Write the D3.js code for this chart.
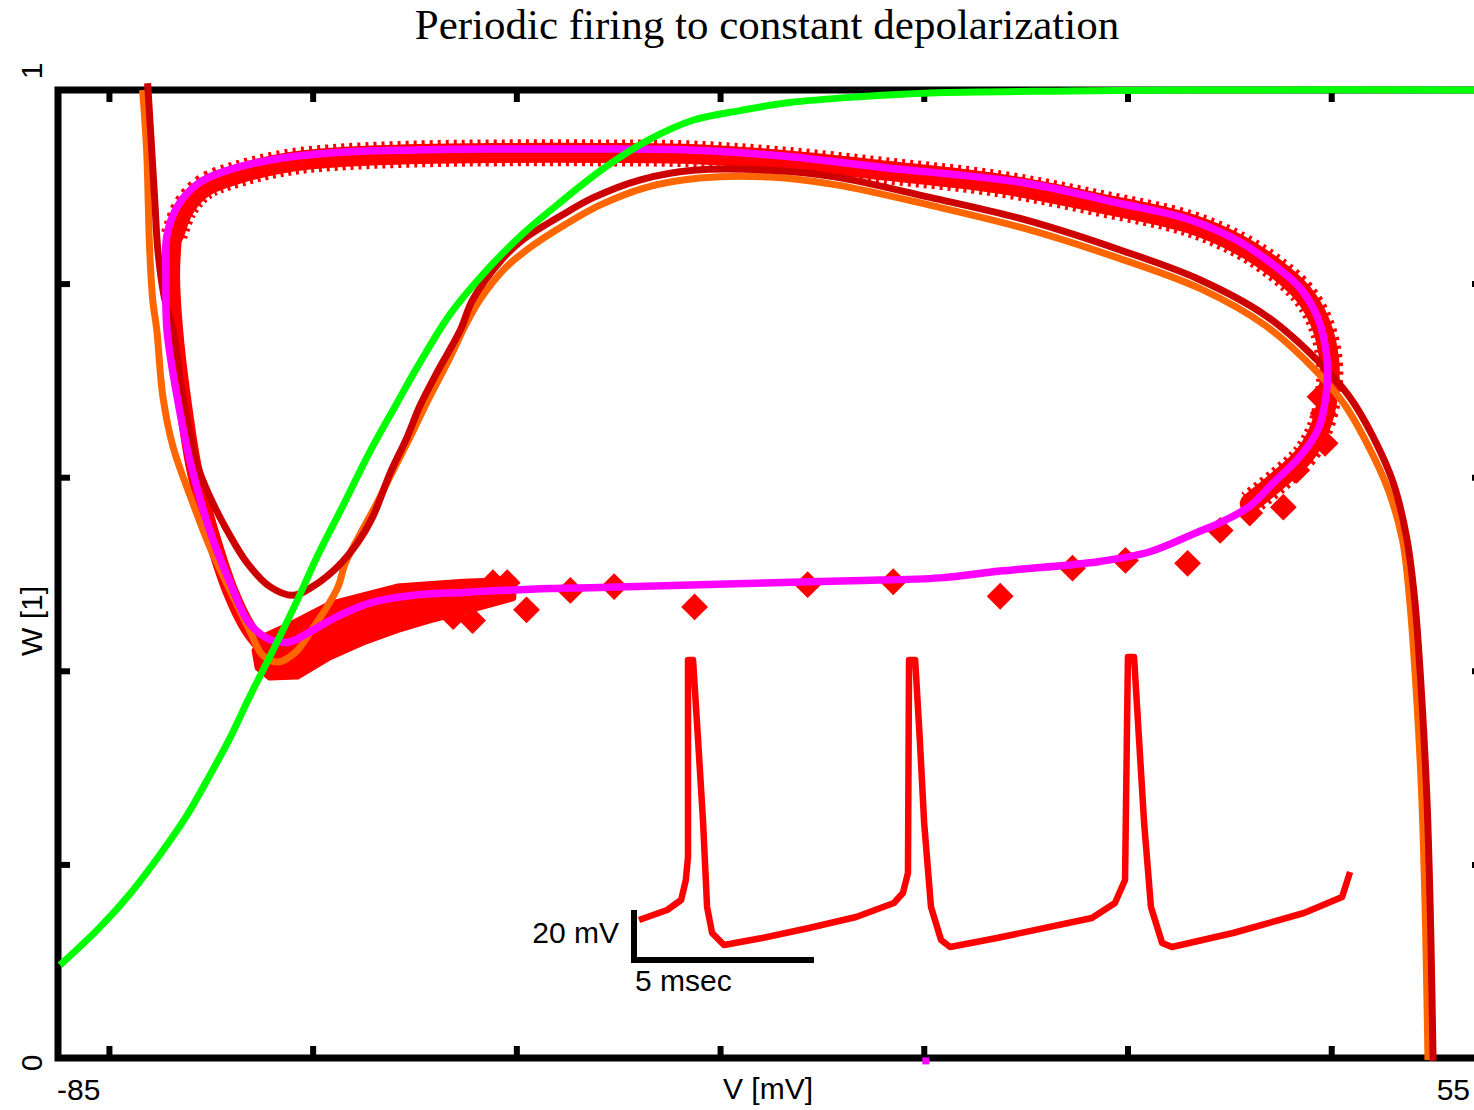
<!DOCTYPE html>
<html>
<head>
<meta charset="utf-8">
<script src="https://cdn.jsdelivr.net/npm/d3@7"></script>
<style>
  body { margin: 0; background: #fff; }
  svg { display: block; }
</style>
</head>
<body>
<div id="chart"></div>
<script>
// steady state activation W(V) - green
const greenV = [-84.8, -80.9, -77.9, -75.0, -72.5, -70.1, -68.1, -66.2, -63.9, -61.5, -59.6, -57.0, -54.4, -51.7, -49.6,
  -46.4, -42.9, -39.3, -35.8, -31.3, -27.1, -22.6, -17.9, -13.2, -6.4, 0.6, 14.5, 27.1, 55];
const greenW = [0.096, 0.135, 0.170, 0.210, 0.248, 0.292, 0.331, 0.373, 0.421, 0.473, 0.517, 0.571, 0.626, 0.677, 0.716,
  0.770, 0.814, 0.852, 0.883, 0.920, 0.948, 0.969, 0.979, 0.987, 0.993, 0.997, 0.999, 1.0, 1.0];

// trajectory - dark red
const darkV = [-76.2, -75.8, -75.5, -75.2, -74.6, -73.6, -73.0, -72.3, -71.4, -70.1, -68.4, -66.4, -64.2, -61.9, -60.0,
  -57.6, -55.6, -54.1, -52.4, -50.7, -49.5, -47.8, -45.5, -44.3, -41.5, -39.4, -35.8, -32.4, -27.9, -22.6, -15.1, -8.6,
  0.6, 9.9, 19.2, 27.1, 33.7, 38.9, 41.8, 44.1, 46.1, 47.4, 48.2, 48.9, 49.4, 49.7, 49.9, 50.0];
const darkW = [1.007, 0.938, 0.886, 0.835, 0.788, 0.747, 0.700, 0.659, 0.615, 0.580, 0.545, 0.511, 0.487, 0.478, 0.487,
  0.507, 0.532, 0.559, 0.604, 0.642, 0.673, 0.708, 0.752, 0.783, 0.824, 0.845, 0.869, 0.889, 0.907, 0.917, 0.917, 0.910,
  0.889, 0.866, 0.835, 0.804, 0.766, 0.718, 0.683, 0.642, 0.594, 0.538, 0.473, 0.370, 0.267, 0.163, 0.060, -0.003];

// trajectory - orange
const orangeV = [-76.7, -76.3, -76.0, -75.7, -75.3, -74.7, -73.7, -72.0, -70.1, -68.1, -66.2, -64.9, -63.4, -61.7, -60.1,
  -58.6, -57.5, -56.8, -55.4, -53.7, -52.1, -50.4, -48.8, -46.5, -45.0, -43.6, -41.1, -38.7, -35.2, -31.8, -27.4, -22.0,
  -15.1, -8.6, 0.6, 9.9, 19.2, 27.1, 33.5, 38.4, 41.3, 43.6, 45.6, 47.0, 47.7, 48.4, 48.9, 49.2, 49.4, 49.5];
const orangeW = [1.0, 0.938, 0.835, 0.783, 0.752, 0.683, 0.631, 0.580, 0.528, 0.483, 0.442, 0.416, 0.409, 0.419, 0.442,
  0.466, 0.487, 0.511, 0.540, 0.573, 0.607, 0.642, 0.677, 0.724, 0.757, 0.783, 0.816, 0.837, 0.861, 0.881, 0.899, 0.909,
  0.910, 0.902, 0.881, 0.857, 0.826, 0.795, 0.757, 0.711, 0.675, 0.633, 0.587, 0.535, 0.473, 0.370, 0.267, 0.163, 0.060, -0.002];

// limit cycle - magenta (closed loop, last point repeats the first)
const magentaV = [-74.3, -74.4, -74.3, -73.2, -71.0, -67.4, -62.1, -56.9, -49.9, -42.9, -32.4, -23.0, -14.1, -4.0, 9.9,
  19.2, 26.1, 30.7, 34.0, 36.9, 38.7, 39.6, 39.5, 38.7, 36.9, 34.3, 32.0, 29.1, 26.6, 22.2, 17.3, 7.5, 1.6, -7.2, -22.0,
  -31.8, -36.7, -45.2, -50.1, -54.4, -57.6, -60.3, -62.2, -63.9, -66.2, -68.1, -70.1, -72.0, -73.3, -74.3];
const magentaW = [0.752, 0.804, 0.850, 0.881, 0.905, 0.920, 0.931, 0.936, 0.938, 0.939, 0.939, 0.938, 0.932, 0.920, 0.904,
  0.883, 0.866, 0.845, 0.822, 0.796, 0.764, 0.721, 0.685, 0.649, 0.621, 0.594, 0.570, 0.553, 0.542, 0.523, 0.513, 0.503,
  0.496, 0.493, 0.489, 0.486, 0.485, 0.481, 0.478, 0.470, 0.456, 0.440, 0.430, 0.431, 0.449, 0.491, 0.545, 0.615, 0.683, 0.752];
const magentaDotV = [0.2];
const magentaDotW = [-0.003];

// simulated trajectory - red diamonds: left branch, upper branch, lower wedge, scattered points
const redLeftV = [-64.4, -66.3, -68.1, -69.9, -71.6, -72.7, -73.5, -73.8, -73.6];
const redLeftW = [0.419, 0.444, 0.483, 0.540, 0.607, 0.680, 0.752, 0.809, 0.850];
const redTopV = [-73.6, -72.5, -70.6, -67.1, -62.0, -56.8, -49.5, -41.6, -31.8, -23.0, -14.1, -4.0, 7.5, 17.3, 26.1, 31.0,
  34.5, 37.2, 38.9, 39.8, 39.7, 38.9, 37.4, 34.8, 32.0];
const redTopW = [0.850, 0.879, 0.900, 0.914, 0.926, 0.931, 0.934, 0.935, 0.935, 0.934, 0.928, 0.917, 0.903, 0.883, 0.862,
  0.840, 0.816, 0.790, 0.760, 0.721, 0.685, 0.651, 0.623, 0.597, 0.573];
const wedgeV = [-65.7, -64.7, -62.2, -58.3, -51.7, -45.2, -40.3, -40.3, -45.2, -48.5, -51.7, -55.1, -58.3, -61.5, -64.2, -65.4];
const wedgeW = [0.421, 0.436, 0.448, 0.469, 0.487, 0.492, 0.494, 0.475, 0.461, 0.452, 0.442, 0.429, 0.414, 0.394, 0.393, 0.403];
const diamondV = [39.4, 39.2, 38.9, 36.6, 35.3, 32.0, 29.1, 25.9, 19.8, 14.6, 7.5, -3.0, -11.4, -22.5, -30.4, -34.7,
  -39.0, -40.9, -42.3, -44.3, -46.2];
const diamondW = [0.635, 0.666, 0.683, 0.607, 0.569, 0.563, 0.545, 0.511, 0.514, 0.506, 0.477, 0.492, 0.489, 0.466, 0.487,
  0.483, 0.463, 0.491, 0.491, 0.452, 0.456];

// inset: membrane potential vs time
const traceT = [0.14, 0.92, 1.31, 1.44, 1.50, 1.50, 1.64, 1.78, 1.92, 2.03, 2.17, 2.50, 3.56, 4.86, 6.17, 7.22, 7.47, 7.61,
  7.64, 7.81, 7.94, 8.06, 8.25, 8.53, 8.78, 10.08, 12.72, 13.36, 13.64, 13.72, 13.89, 14.03, 14.17, 14.36, 14.67, 14.94,
  16.64, 18.61, 19.67, 19.89];
const traceMV = [-64, -60, -56, -48, -38.8, 40, 40, 8, -25.2, -58.8, -69.2, -74, -71.2, -67.2, -62.8, -57.2, -53.2, -45.2,
  40, 40, 8, -25.2, -58.8, -72, -74.8, -71.2, -63.2, -57.2, -48, 41.2, 41.2, 8, -25.2, -58.8, -73.2, -74.8,
  -69.2, -61.2, -54.8, -44.8];

const xTicks = [-80, -60, -40, -20, 0, 20, 40];
const yTicks = [0.2, 0.4, 0.6, 0.8];

const width = 1474, height = 1110;
const sans = "'Liberation Sans', Arial, Helvetica, sans-serif";

const x = d3.scaleLinear().domain([-85, 55]).range([58, 1484]);
const y = d3.scaleLinear().domain([0, 1]).range([1058, 90]);

// inset scales, anchored at the scale bar corner
const tx = d3.scaleLinear().domain([0, 5]).range([634, 814]);
const vy = d3.scaleLinear().domain([-80, -60]).range([960, 910]);

const pts = (vs, ws) => vs.map((v, i) => [v, ws[i]]);
const smooth = d3.curveCatmullRom.alpha(0.5);
const line = d3.line().x(d => x(d[0])).y(d => y(d[1])).curve(smooth);
const loop = d3.line().x(d => x(d[0])).y(d => y(d[1])).curve(d3.curveCatmullRomClosed.alpha(0.5));

const svg = d3.select("#chart")
    .append("svg")
    .attr("width", width)
    .attr("height", height)
    .attr("viewBox", `0 0 ${width} ${height}`);

svg.append("text")
    .attr("x", 767)
    .attr("y", 39)
    .attr("text-anchor", "middle")
    .attr("font-family", "'Liberation Serif', 'Times New Roman', serif")
    .attr("font-size", 43)
    .text("Periodic firing to constant depolarization");

// frame
svg.append("rect")
    .attr("x", x(-85))
    .attr("y", y(1))
    .attr("width", x(55) - x(-85))
    .attr("height", y(0) - y(1))
    .attr("fill", "none")
    .attr("stroke", "#000")
    .attr("stroke-width", 7);

const styleTicks = g => {
    g.select(".domain").remove();
    g.selectAll(".tick line").attr("stroke", "#000").attr("stroke-width", 6);
};

svg.append("g").attr("transform", `translate(0, ${y(0)})`)
    .call(d3.axisBottom(x).tickValues(xTicks).tickSize(-12).tickFormat(""))
    .call(styleTicks);
svg.append("g").attr("transform", `translate(0, ${y(1)})`)
    .call(d3.axisTop(x).tickValues(xTicks).tickSize(-12).tickFormat(""))
    .call(styleTicks);
svg.append("g").attr("transform", `translate(${x(-85)}, 0)`)
    .call(d3.axisLeft(y).tickValues(yTicks).tickSize(-12).tickFormat(""))
    .call(styleTicks);
svg.append("g").attr("transform", `translate(${x(55)}, 0)`)
    .call(d3.axisRight(y).tickValues(yTicks).tickSize(-12).tickFormat(""))
    .call(styleTicks);

// axis end labels
const labels = svg.append("g").attr("font-family", sans).attr("font-size", 30).attr("fill", "#000");
labels.append("text").attr("x", x(-85) - 1).attr("y", 1100).attr("text-anchor", "start").text("-85");
labels.append("text").attr("x", x(55) - 14).attr("y", 1100).attr("text-anchor", "end").text("55");
labels.append("text").attr("x", 768).attr("y", 1099).attr("text-anchor", "middle").text("V [mV]");
labels.append("text").attr("transform", `translate(42, ${y(0) + 5}) rotate(-90)`).attr("text-anchor", "middle").text("0");
labels.append("text").attr("transform", `translate(42, ${y(1) - 19}) rotate(-90)`).attr("text-anchor", "middle").text("1");
labels.append("text").attr("transform", "translate(42, 621) rotate(-90)").attr("text-anchor", "middle").text("W [1]");

// red simulated band
svg.append("path")
    .attr("d", d3.line().x(d => x(d[0])).y(d => y(d[1])).curve(d3.curveLinearClosed)(pts(wedgeV, wedgeW)))
    .attr("fill", "#ff0000")
    .attr("stroke", "#ff0000")
    .attr("stroke-width", 6)
    .attr("stroke-linejoin", "round");
svg.append("path")
    .attr("d", line(pts(redLeftV, redLeftW)))
    .attr("fill", "none")
    .attr("stroke", "#ff0000")
    .attr("stroke-width", 16)
    .attr("stroke-linecap", "round");
svg.append("path")
    .attr("d", line(pts(redTopV, redTopW)))
    .attr("fill", "none")
    .attr("stroke", "#ff0000")
    .attr("stroke-width", 27)
    .attr("stroke-dasharray", "3 5");
svg.append("path")
    .attr("d", line(pts(redTopV, redTopW)))
    .attr("fill", "none")
    .attr("stroke", "#ff0000")
    .attr("stroke-width", 20)
    .attr("stroke-linejoin", "round")
    .attr("stroke-linecap", "round");
svg.selectAll("path.diamond")
    .data(pts(diamondV, diamondW))
    .enter()
    .append("path")
        .classed("diamond", true)
        .attr("d", d3.symbol(d3.symbolSquare, 360))
        .attr("transform", d => `translate(${x(d[0])}, ${y(d[1])}) rotate(45)`)
        .attr("fill", "#ff0000");

const drawLine = (vs, ws, color, w) => svg.append("path")
    .attr("d", line(pts(vs, ws)))
    .attr("fill", "none")
    .attr("stroke", color)
    .attr("stroke-width", w)
    .attr("stroke-linejoin", "round");

drawLine(orangeV, orangeW, "#ff6600", 7);
drawLine(darkV, darkW, "#cc0000", 7);
svg.append("path")
    .attr("d", loop(pts(magentaV, magentaW).slice(0, -1)))
    .attr("fill", "none")
    .attr("stroke", "#ff00ff")
    .attr("stroke-width", 7.5);
svg.selectAll("rect.mdot")
    .data(pts(magentaDotV, magentaDotW))
    .enter()
    .append("rect")
        .classed("mdot", true)
        .attr("x", d => x(d[0]) - 3.5)
        .attr("y", d => y(d[1]) - 3.5)
        .attr("width", 7)
        .attr("height", 7)
        .attr("fill", "#ff00ff");
drawLine(greenV, greenW, "#00ff00", 7);

// inset voltage trace (kept piecewise linear so the spikes stay sharp)
svg.append("path")
    .attr("d", d3.line().x((d, i) => tx(traceT[i])).y(d => vy(d))(traceMV))
    .attr("fill", "none")
    .attr("stroke", "#ff0000")
    .attr("stroke-width", 6.5)
    .attr("stroke-linejoin", "round");

// scale bar
svg.append("path")
    .attr("d", `M${tx(0)},${vy(-60)}V${vy(-80)}H${tx(5)}`)
    .attr("fill", "none")
    .attr("stroke", "#000")
    .attr("stroke-width", 6);
labels.append("text").attr("x", tx(0) - 15).attr("y", 943).attr("text-anchor", "end").text("20 mV");
labels.append("text").attr("x", tx(0) + 1).attr("y", 991).attr("text-anchor", "start").text("5 msec");
</script>
</body>
</html>
